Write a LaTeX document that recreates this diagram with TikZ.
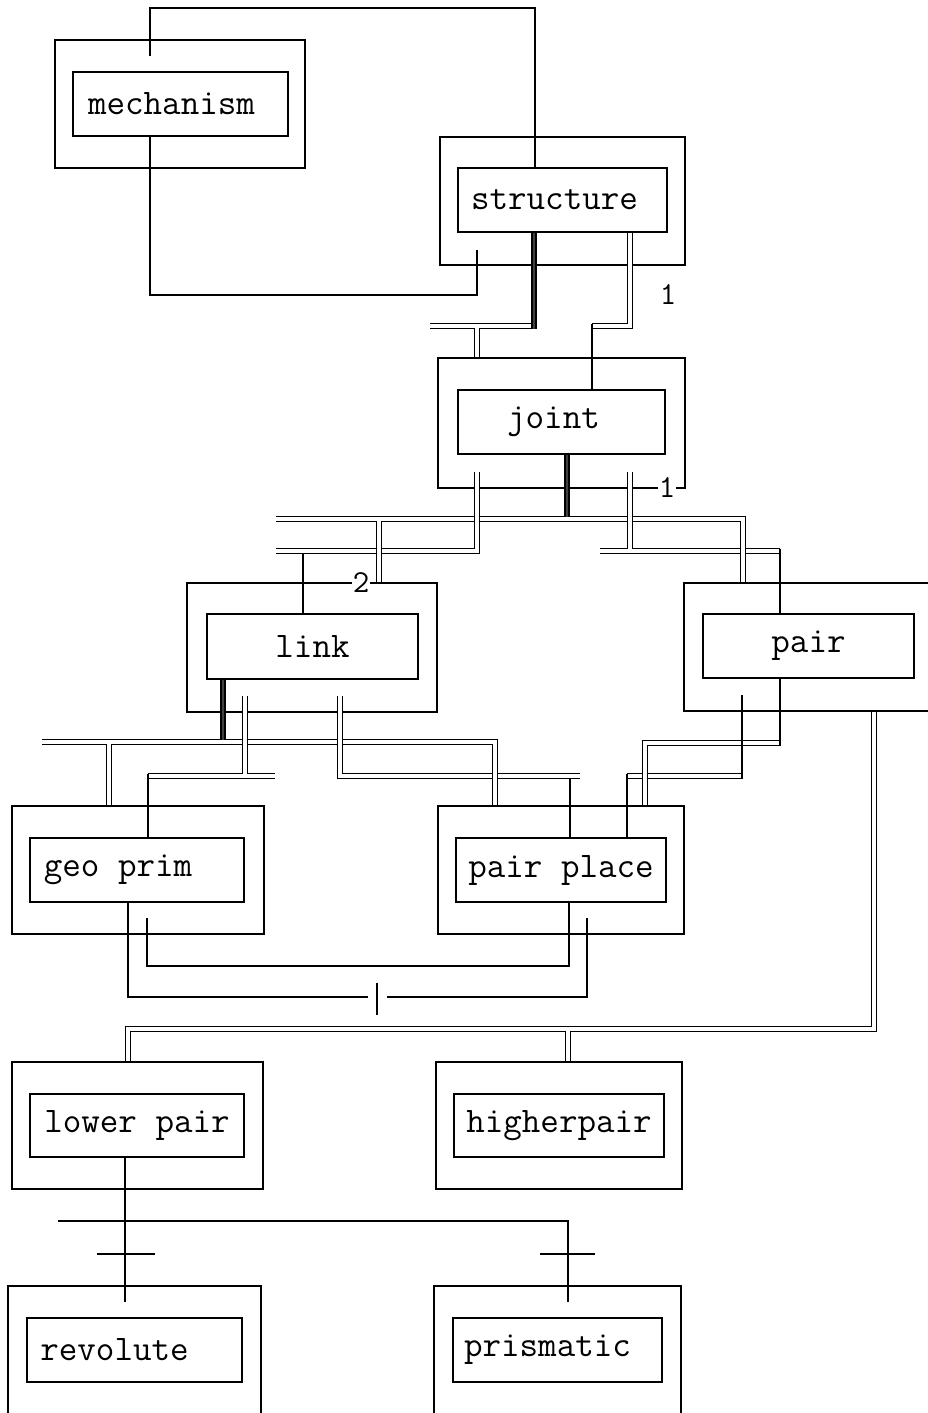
\documentclass[tikz,border=0pt]{standalone}
\usepackage{fontspec}
\begin{document}
\begin{tikzpicture}[x=1pt,y=-1pt,
  ln/.style={line width=1.4pt},
  dbl/.style={line width=1.3pt, double=white, double distance=3.4pt},
  heavy/.style={line width=1.5pt, double=black!75, double distance=2.6pt},
  obox/.style={draw, line width=1.4pt, inner sep=0pt, minimum height=128pt},
  ibox/.style={draw, line width=1.4pt, inner sep=0pt, minimum height=64pt, font=\ttfamily\fontsize{36}{40}\selectfont},
  num/.style={font=\ttfamily\fontsize{32}{36}\selectfont, inner sep=1pt},
]
\useasboundingbox (0,0) rectangle (928,1413);

% entities
\node[obox, minimum width=250pt] (mO) at (180,104) {};
\node[ibox, minimum width=215pt] (mI) at (180.5,104) {mechanism\kern18pt};
\node[obox, minimum width=245pt] (sO) at (562.5,201) {};
\node[ibox, minimum width=209pt] (sI) at (562.5,200) {structure\kern16pt};
\node[obox, minimum width=247pt, minimum height=130pt] (jO) at (561.5,423) {};
\node[ibox, minimum width=207pt] (jI) at (561.5,422) {joint\kern16pt};
\node[obox, minimum width=250pt, minimum height=129pt] (lO) at (312,647.5) {};
\node[ibox, minimum width=211pt, minimum height=65pt] (lI) at (312.5,646.5) {link};
\node[obox, minimum width=250pt] (pO) at (809,647) {};
\node[ibox, minimum width=211pt] (pI) at (808.5,646) {pair};
\node[obox, minimum width=252pt] (gO) at (138,870) {};
\node[ibox, minimum width=214pt] (gI) at (137,870) {geo prim\kern38pt};
\node[obox, minimum width=246pt] (ppO) at (561,870) {};
\node[ibox, minimum width=210pt] (ppI) at (561,870) {pair place};
\node[obox, minimum width=251pt, minimum height=127pt] (lpO) at (137.5,1125.5) {};
\node[ibox, minimum width=214pt, minimum height=63pt] (lpI) at (137,1125.5) {lower pair};
\node[obox, minimum width=246pt, minimum height=127pt] (hpO) at (559,1125.5) {};
\node[ibox, minimum width=210pt, minimum height=63pt] (hpI) at (559,1125.5) {higherpair};
\node[obox, minimum width=253pt, minimum height=132pt] (rO) at (134.5,1352) {};
\node[ibox, minimum width=215pt] (rI) at (134.5,1350) {revolute\kern40pt};
\node[obox, minimum width=247pt, minimum height=132pt] (prO) at (557.5,1352) {};
\node[ibox, minimum width=209pt] (prI) at (557.5,1350) {prismatic\kern20pt};

% free ends
\coordinate (a1) at (150,56);
\coordinate (a2) at (477,250);
\coordinate (a3) at (430,326);
\coordinate (b1) at (276,519);
\coordinate (b2) at (276,551);
\coordinate (b3) at (600,551);
\coordinate (b4) at (477,472);
\coordinate (b5) at (630,472);
\coordinate (c1) at (42,742);
\coordinate (c2) at (275,776);
\coordinate (c3) at (245,696);
\coordinate (c4) at (340,696);
\coordinate (c5) at (580,776);
\coordinate (d1) at (742,695);
\coordinate (g1) at (368,997);
\coordinate (g2) at (387,997);
\coordinate (g3) at (587,918);
\coordinate (g4) at (147,918);
\coordinate (r1) at (125,1302);
\coordinate (r2) at (58,1221);
\coordinate (r3) at (568,1302);

% mechanism -- structure
\draw[ln] (a1) |- (535,8) -- (sI.north -| 535,0);
\draw[ln] (mI.south -| 150,0) |- (477,295) -- (a2);

% structure -- joint
\draw[dbl] (531,326) -- (a3);
\draw[heavy] (sI.south -| 534,0) -- (534,328.5);
\draw[dbl] (477,328) -- (jO.north -| 477,0);
\draw[dbl] (sI.south -| 630,0) |- (592,326);
\draw[ln] (592,323.5) -- (jI.north -| 592,0);
\node[num] (n1) at (668,295) {1};

% joint -- link / pair
\draw[dbl] (b3) -- (780,551);
\draw[ln] (780,548.5) -- (pI.north -| 780,0);
\draw[dbl] (b1) -| (pO.north -| 743,0);
\draw[heavy] (jI.south -| 567,0) -- (567,517);
\draw[dbl] (b4) |- (b2);
\draw[dbl] (b5) -- (630,549);
\draw[dbl] (379,521) -- (lO.north -| 379,0);
\draw[ln] (303,553.5) -- (lI.north -| 303,0);
\node[num, fill=white] (n2) at (667,488) {1};
\node[num, fill=white] (n3) at (361,583) {2};

% link -- geo prim / pair place
\draw[dbl] (148,776) -- (c2);
\draw[ln] (148,773.5) -- (gI.north -| 148,0);
\draw[dbl] (c1) -| (ppO.north -| 495,0);
\draw[heavy] (lI.south -| 223,0) -- (223,740);
\draw[dbl] (109,744) -- (gO.north -| 109,0);
\draw[dbl] (c3) -- (245,774);
\draw[dbl] (c4) |- (c5);
\draw[dbl] (495,744) -- (ppO.north -| 495,0);
\draw[ln] (570,778.5) -- (ppI.north -| 570,0);

% pair -- pair place
\draw[dbl] (742,776) -- (627,776);
\draw[ln] (627,773.5) -- (ppI.north -| 627,0);
\draw[dbl] (780,743) -| (ppO.north -| 645,0);
\draw[ln] (pI.south -| 780,0) -- (780,746);
\draw[ln] (d1) -- (742,778.5);

% pair -- lower pair / higherpair
\draw[dbl] (pO.south -| 874,0) |- (128,1029) -- (lpO.north -| 128,0);
\draw[dbl] (568,1031) -- (hpO.north -| 568,0);

% geo prim -- pair place
\draw[ln] (gI.south -| 128,0) |- (g1);
\draw[ln] (g2) -| (g3);
\draw[ln] (377,983) -- (377,1015);
\draw[ln] (g4) |- (569,966) -- (ppI.south -| 569,0);

% lower pair -- revolute / prismatic
\draw[ln] (lpI.south -| 125,0) -- (r1);
\draw[ln] (97,1254) -- (155,1254);
\draw[ln] (r2) -| (r3);
\draw[ln] (540,1254) -- (595,1254);
\end{tikzpicture}
\end{document}
